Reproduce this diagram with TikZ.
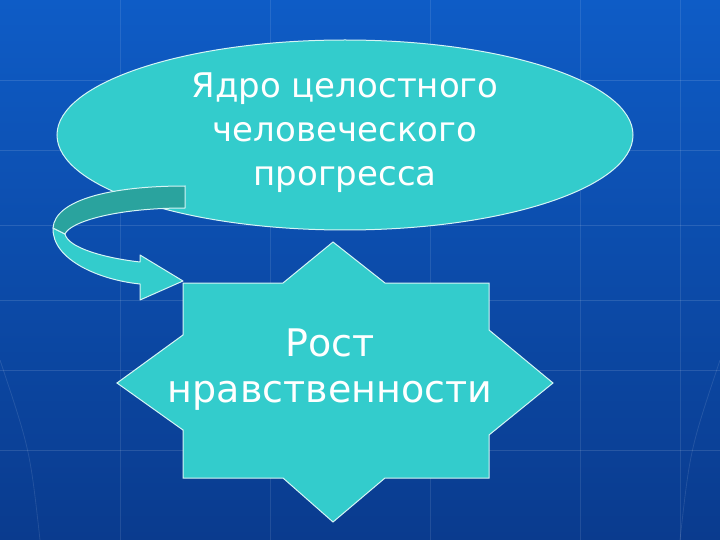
\documentclass[tikz,border=0pt]{standalone}
\usepackage{fontspec}
\setmainfont{DejaVu Sans}
\usetikzlibrary{shapes.geometric}
\begin{document}
\begin{tikzpicture}[x=1pt,y=-1pt,
  shapefill/.style={fill=teal1,draw=white!80!teal1,line width=1pt}]
\definecolor{teal1}{HTML}{33CCCC}
\definecolor{teal2}{HTML}{2AA39E}
\definecolor{bgtop}{HTML}{0E5CC6}
\definecolor{bgbot}{HTML}{0A3B8E}
\shade[top color=bgtop,bottom color=bgbot] (0,0) rectangle (720,540);
\useasboundingbox (0,0) rectangle (720,540);
\foreach \y in {80,150,225,300,370,450}
  \draw[white,opacity=0.12,line width=0.8pt] (0,\y) -- (720,\y);
\foreach \x in {120,270,430,580,680}
  \draw[white,opacity=0.10,line width=0.8pt] (\x,0) -- (\x,540);
\draw[white,opacity=0.1,line width=0.8pt] (0,360) .. controls (30,450) .. (40,540);
\draw[white,opacity=0.1,line width=0.8pt] (720,360) .. controls (690,450) .. (680,540);
% ellipse
\node[shapefill,ellipse,minimum width=576pt,minimum height=190pt,inner sep=0pt] (ell) at (345,135) {};
\node[align=center,font=\fontsize{34}{44}\selectfont,text=white] (t1) at (345,133) {Ядро целостного\\человеческого\\прогресса};
% arrow
\draw[shapefill,fill=teal1,line join=round] (53,228) .. controls (52,260) and (100,280) .. (140,284) -- (140,300) -- (183,281) -- (140,255) -- (140,262) .. controls (105,258) and (68,248) .. (65,234) -- cycle;
\draw[shapefill,fill=teal2] (185,186) .. controls (110,186) and (55,200) .. (53,228) -- (65,234) .. controls (70,222) and (115,208) .. (185,208) -- cycle;
% star
\coordinate (st) at (333,383);
\draw[shapefill] (333,242) -- (385,283) -- (489,283) -- (489,330) -- (553,383) -- (489,435) -- (489,478) -- (385,478) -- (333,522) -- (283,478) -- (183,478) -- (183,430) -- (117,383) -- (183,335) -- (183,283) -- (283,283) -- cycle;
\node[align=center,font=\fontsize{38}{46}\selectfont,text=white] (t2) at (330,370) {Рост\\нравственности};
\end{tikzpicture}
\end{document}
